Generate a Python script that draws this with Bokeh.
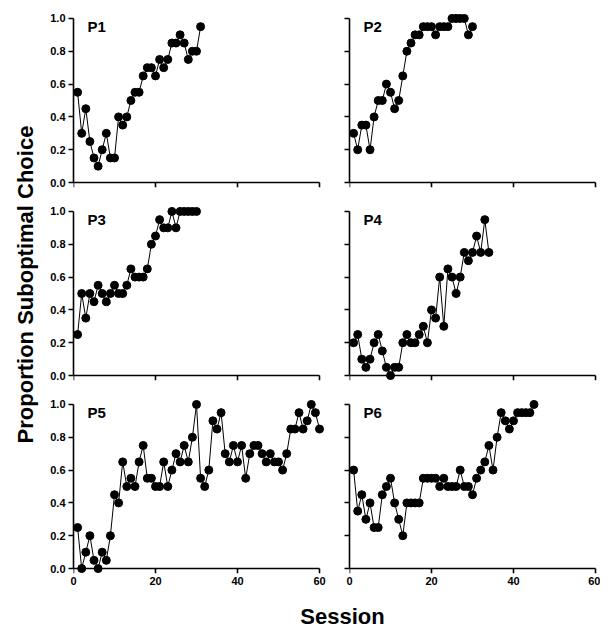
import math
from bokeh.plotting import figure
from bokeh.layouts import column, row
from bokeh.models import (Range1d, Label, FixedTicker, PrintfTickFormatter,
                          CustomJSTickFormatter, LinearAxis)
from bokeh.embed import file_html
from bokeh.resources import INLINE

# ---- data (proportion suboptimal choice per session) ----
P1 = [0.55, 0.30, 0.45, 0.25, 0.15, 0.10, 0.20, 0.30, 0.15, 0.15, 0.40, 0.35, 0.40, 0.50, 0.55, 0.55,
      0.65, 0.70, 0.70, 0.65, 0.75, 0.70, 0.75, 0.85, 0.85, 0.90, 0.85, 0.75, 0.80, 0.80, 0.95]
P2 = [0.30, 0.20, 0.35, 0.35, 0.20, 0.40, 0.50, 0.50, 0.60, 0.55, 0.45, 0.50, 0.65, 0.80, 0.85, 0.90,
      0.90, 0.95, 0.95, 0.95, 0.90, 0.95, 0.95, 0.95, 1.00, 1.00, 1.00, 1.00, 0.90, 0.95]
P3 = [0.25, 0.50, 0.35, 0.50, 0.45, 0.55, 0.50, 0.45, 0.50, 0.55, 0.50, 0.50, 0.55, 0.65, 0.60, 0.60,
      0.60, 0.65, 0.80, 0.85, 0.95, 0.90, 0.90, 1.00, 0.90, 1.00, 1.00, 1.00, 1.00, 1.00]
P4 = [0.20, 0.25, 0.10, 0.05, 0.10, 0.20, 0.25, 0.15, 0.05, 0.00, 0.05, 0.05, 0.20, 0.25, 0.20, 0.20,
      0.25, 0.30, 0.20, 0.40, 0.35, 0.60, 0.30, 0.65, 0.60, 0.50, 0.60, 0.75, 0.70, 0.75, 0.85, 0.75,
      0.95, 0.75]
P5 = [0.25, 0.00, 0.10, 0.20, 0.05, 0.00, 0.10, 0.05, 0.20, 0.45, 0.40, 0.65, 0.50, 0.55, 0.50, 0.65,
      0.75, 0.55, 0.55, 0.50, 0.50, 0.65, 0.50, 0.60, 0.70, 0.65, 0.75, 0.65, 0.80, 1.00, 0.55, 0.50,
      0.60, 0.90, 0.85, 0.95, 0.70, 0.65, 0.75, 0.65, 0.75, 0.55, 0.70, 0.75, 0.75, 0.70, 0.65, 0.70,
      0.65, 0.65, 0.60, 0.70, 0.85, 0.85, 0.95, 0.85, 0.90, 1.00, 0.95, 0.85]
P6 = [0.60, 0.35, 0.45, 0.30, 0.40, 0.25, 0.25, 0.45, 0.50, 0.55, 0.40, 0.30, 0.20, 0.40, 0.40, 0.40,
      0.40, 0.55, 0.55, 0.55, 0.55, 0.50, 0.55, 0.50, 0.50, 0.50, 0.60, 0.50, 0.50, 0.45, 0.55, 0.60,
      0.65, 0.75, 0.60, 0.80, 0.95, 0.90, 0.85, 0.90, 0.95, 0.95, 0.95, 0.95, 1.00]
PANEL_NAMES = ["P1", "P2", "P3", "P4", "P5", "P6"]
X_TICKS = [0, 20, 40, 60]
Y_TICKS = [0.0, 0.2, 0.4, 0.6, 0.8, 1.0]
Y_LABEL = "Proportion Suboptimal Choice"
X_LABEL = "Session"

# ---- styling / geometry ----
FONT = "Liberation Sans"
SX = 4.1            # px per session
FW = 251            # frame width
FH = 174            # frame height
XR = (0, FW / SX)
YR = (-0.03, 1.03)
YLAB_W = 43
TOTAL_H = 631


def style_axis(ax):
    ax.axis_line_color = "black"
    ax.axis_line_width = 1.6
    ax.major_tick_line_color = "black"
    ax.major_tick_line_width = 1.6
    ax.major_tick_out = 5
    ax.major_tick_in = 0
    ax.minor_tick_out = 0
    ax.minor_tick_in = 0
    ax.major_label_standoff = 3
    ax.major_label_text_font = FONT
    ax.major_label_text_font_style = "bold"
    ax.major_label_text_font_size = "11px"
    ax.major_label_text_color = "black"


def make_panel(name, values, left, top, bottom):
    p = figure(frame_width=FW, frame_height=FH,
               x_range=Range1d(*XR), y_range=Range1d(*YR),
               toolbar_location=None, output_backend="svg",
               min_border_left=30 if left else 20,
               min_border_right=5 if left else 0,
               min_border_top=13 if top else 5,
               min_border_bottom=26 if bottom else 14)
    p.outline_line_color = None
    p.grid.visible = False
    p.background_fill_color = "white"
    p.border_fill_color = "white"

    sessions = list(range(1, len(values) + 1))
    p.line(sessions, values, line_color="black", line_width=1)
    p.scatter(sessions, values, size=8, fill_color="black", line_color="black")

    # y axis
    ya = p.yaxis[0]
    style_axis(ya)
    ya.ticker = FixedTicker(ticks=Y_TICKS)
    ya.bounds = (0, 1)
    if left:
        ya.formatter = PrintfTickFormatter(format="%.1f")
    else:
        ya.formatter = CustomJSTickFormatter(code="return ''")
        ya.major_label_text_font_size = "1px"

    # x axis: the default one carries tick labels only (bottom row)
    xa = p.xaxis[0]
    style_axis(xa)
    xa.ticker = FixedTicker(ticks=X_TICKS)
    if bottom:
        xa.axis_line_color = None
        xa.major_tick_line_color = None
        xa.major_tick_out = 0
        xa.major_label_standoff = 3
        # a second axis drawn at y = 0 with line and ticks
        xline = LinearAxis(ticker=FixedTicker(ticks=X_TICKS), fixed_location=0, bounds=(0, 60),
                           formatter=CustomJSTickFormatter(code="return ''"))
        style_axis(xline)
        xline.major_label_text_font_size = "1px"
        xline.major_label_standoff = 0
        p.add_layout(xline, "below")
    else:
        xa.bounds = (0, 60)
        xa.fixed_location = 0
        xa.formatter = CustomJSTickFormatter(code="return ''")
        xa.major_label_text_font_size = "1px"

    p.add_layout(Label(x=3.4, y=1.005, text=name, text_font=FONT, text_font_style="bold",
                       text_font_size="15px", text_color="black",
                       text_align="left", text_baseline="top"))
    return p


data = [P1, P2, P3, P4, P5, P6]
panels = []
for i, (nm, vals) in enumerate(zip(PANEL_NAMES, data)):
    panels.append(make_panel(nm, vals, left=(i % 2 == 0), top=(i < 2), bottom=(i >= 4)))

# x-axis title strip
lab = figure(width=557, height=32, x_range=Range1d(0, 557), y_range=Range1d(0, 32),
             x_axis_location=None, y_axis_location=None, toolbar_location=None,
             output_backend="svg", min_border=0)
lab.outline_line_color = None
lab.grid.visible = False
lab.add_layout(Label(x=299, y=15, text=X_LABEL, text_font=FONT, text_font_style="bold",
                     text_font_size="22px", text_color="black",
                     text_align="center", text_baseline="middle"))

# y-axis title strip
ylab = figure(width=YLAB_W, height=TOTAL_H, x_range=Range1d(0, YLAB_W), y_range=Range1d(0, TOTAL_H),
              x_axis_location=None, y_axis_location=None, toolbar_location=None,
              output_backend="svg", min_border=0)
ylab.outline_line_color = None
ylab.grid.visible = False
ylab.add_layout(Label(x=25, y=347, text=Y_LABEL, angle=math.pi / 2, text_font=FONT,
                      text_font_style="bold", text_font_size="22px", text_color="black",
                      text_align="center", text_baseline="middle"))

layout = row(ylab, column(row(panels[0], panels[1]), row(panels[2], panels[3]),
                          row(panels[4], panels[5]), lab))

open("out.html", "w").write(file_html(layout, INLINE))
